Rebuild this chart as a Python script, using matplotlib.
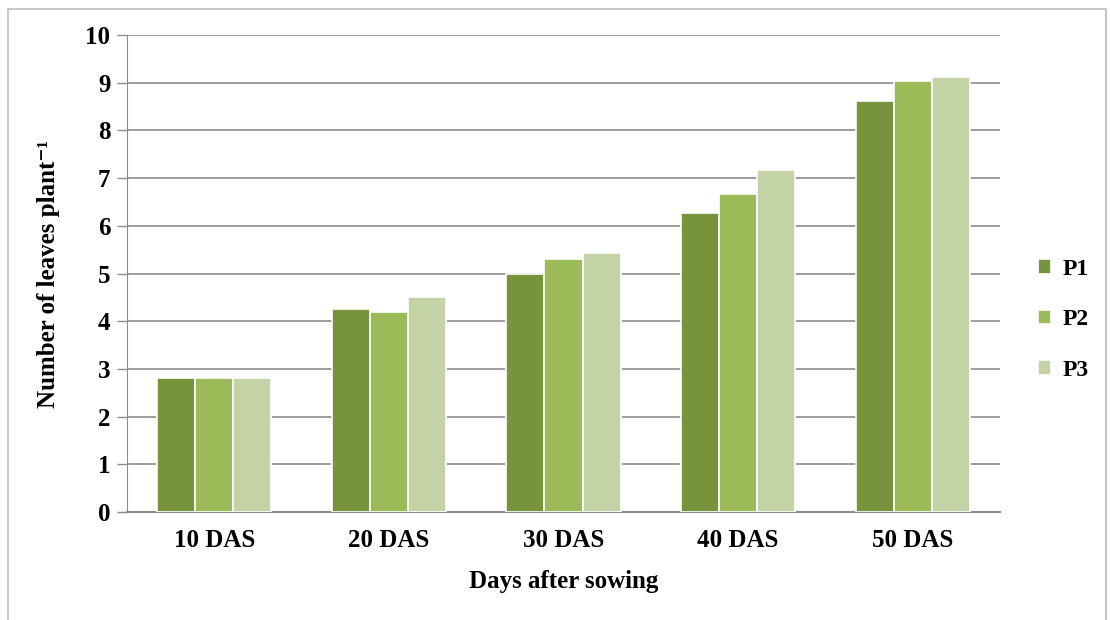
import numpy as np
import matplotlib
matplotlib.use("Agg")
import matplotlib.pyplot as plt
from matplotlib.patches import Rectangle

categories = ["10 DAS", "20 DAS", "30 DAS", "40 DAS", "50 DAS"]
p1 = [2.8, 4.26, 5.0, 6.27, 8.61]
p2 = [2.8, 4.19, 5.3, 6.67, 9.03]
p3 = [2.8, 4.51, 5.42, 7.17, 9.11]
series_names = ["P1", "P2", "P3"]
colors = ["#77933C", "#9BBB59", "#C3D3A5"]

plt.rcParams['font.family'] = ['Liberation Serif', 'DejaVu Serif']

fig = plt.figure(figsize=(11.1, 6.2), dpi=100)
ax = fig.add_axes([0.1144, 0.1742, 0.7865, 0.7693])

x = np.arange(len(categories))
width = 0.218
for i, (vals, name, c) in enumerate(zip([p1, p2, p3], series_names, colors)):
    ax.bar(x + (i - 1) * width, vals, width, color=c, edgecolor="white",
           linewidth=1.2, label=name, zorder=3)

ax.set_xlim(-0.5, len(categories) - 0.5)
ax.set_ylim(0, 10)
ax.set_yticks(range(0, 11))
ax.set_xticks(x)
ax.set_xticklabels(categories)
ax.yaxis.grid(True, color="#8c8c8c", linewidth=1.2, zorder=0)
ax.tick_params(axis="y", length=7, width=1, color="#8c8c8c", labelsize=18, pad=5)
ax.tick_params(axis="x", length=0, labelsize=18, pad=12)
for lab in ax.get_yticklabels() + ax.get_xticklabels():
    lab.set_fontweight("bold")

for s in ["top", "right"]:
    ax.spines[s].set_visible(False)
ax.spines["left"].set_color("#8c8c8c")
ax.spines["bottom"].set_color("#8c8c8c")
ax.spines["bottom"].set_linewidth(1.5)

ax.set_xlabel("Days after sowing", fontsize=18, fontweight="bold", labelpad=13)
ax.set_ylabel("Number of leaves plant\u207b\u00b9", fontsize=18,
              fontweight="bold", labelpad=18)

leg = fig.legend(loc="center left", bbox_to_anchor=(0.916, 0.484), frameon=False,
                 fontsize=17, handlelength=0.55, handleheight=0.55,
                 handletextpad=0.5, labelspacing=1.25)
for t in leg.get_texts():
    t.set_fontweight("bold")

# outer chart border
fig.patches.append(Rectangle((0.007, -0.01), 0.989, 0.995, transform=fig.transFigure,
                             fill=False, edgecolor="#bdbdbd", linewidth=1.2))

fig.savefig("out.png", dpi=100)
